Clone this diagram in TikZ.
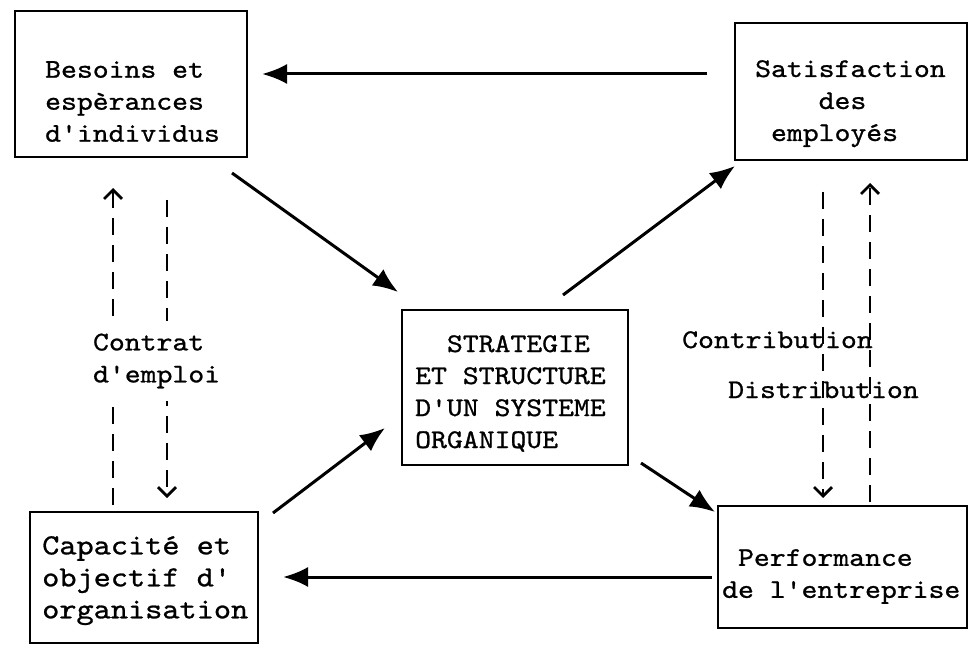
\documentclass[tikz,border=0pt]{standalone}
\usepackage{fontspec}
\newfontfamily\tw{lmmono10-regular}[Extension=.otf,FakeStretch=1.12,FakeBold=0.9,Ligatures=TeXOff]
\usetikzlibrary{arrows.meta}
\begin{document}
\begin{tikzpicture}[x=1pt,y=-1pt,
  box/.style={draw, line width=2.5pt, inner sep=0pt, outer sep=0pt},
  txt/.style={font=\tw\fontsize{27}{32}\selectfont, align=left, inner sep=0pt},
  bigtxt/.style={font=\tw\fontsize{29.2}{32}\selectfont, align=left, inner sep=0pt},
  sarrow/.style={line width=3pt, -{Latex[length=25pt,width=20pt]}},
  darrow/.style={line width=2.3pt, dash pattern=on 17pt off 10pt, -{Straight Barb[length=9pt,width=18pt,line width=2.8pt]}}]
\useasboundingbox (0,0) rectangle (969,655);

% boxes
\node[box, minimum width=232pt, minimum height=146pt] (bes) at (131,84) {};
\node[box, minimum width=232pt, minimum height=137pt] (sat) at (851,91.5) {};
\node[box, minimum width=226pt, minimum height=155pt] (str) at (515,387.5) {};
\node[box, minimum width=228pt, minimum height=131pt] (cap) at (144,577.5) {};
\node[box, minimum width=249pt, minimum height=122pt] (perf) at (842.5,567) {};

% box texts
\node[txt, anchor=north west] (tbes) at (45,61) {Besoins et\\esp\`erances\\d'individus};
\node[txt, anchor=north west] (tsat) at (755,60) {Satisfaction\\\hphantom{XXXX}des\\\hphantom{X}employ\'es};
\node[txt, anchor=north west] (tstr) at (415,335) {\hphantom{XX}STRATEGIE\\ET STRUCTURE\\D'UN SYSTEME\\ORGANIQUE};
\node[bigtxt, anchor=north west] (tcap) at (42,536) {Capacit\'e et\\objectif d'\\organisation};
\node[txt, anchor=north west] (tperf) at (722,549) {\hphantom{X}Performance\\de l'entreprise};

% guide coordinates
\coordinate (H1) at (0,74);
\coordinate (H2) at (0,577);
\coordinate (L1) at (113,0);
\coordinate (L2) at (167,0);
\coordinate (R1) at (823,0);
\coordinate (R2) at (870,0);

% solid connectors
\draw[sarrow, shorten <=28pt, shorten >=15pt] (sat.west |- H1) -- (bes.east |- H1);
\draw[sarrow] ([shift={(-15,16)}]bes.south east) -- ([shift={(-4,-18)}]str.north west);
\draw[sarrow] ([shift={(48,-15)}]str.north) -- ([shift={(0,6)}]sat.south west);
\draw[sarrow] ([shift={(15,1)}]cap.north east) -- ([shift={(-17,-37)}]str.south west);
\draw[sarrow] ([shift={(13,-2)}]str.south east) -- ([shift={(-3,6)}]perf.north west);
\draw[sarrow, shorten <=6pt, shorten >=25pt] (perf.west |- H2) -- (cap.east |- H2);

% dashed connectors
\draw[darrow, shorten <=7pt, shorten >=31pt] (cap.north -| L1) -- (bes.south -| L1);
\draw[darrow, shorten <=43pt, shorten >=14pt] (bes.south -| L2) -- (cap.north -| L2);
\draw[darrow, shorten <=32pt, shorten >=8pt] (sat.south -| R1) -- (perf.north -| R1);
\draw[darrow, shorten <=4pt, shorten >=23pt] (perf.north -| R2) -- (sat.south -| R2);

% labels
\node[txt, fill=white, inner xsep=0pt, inner ysep=13pt] (contrat) at (156.6,361) {Contrat\\d'emploi};
\node[txt, anchor=base west] (contrib) at (682,348) {Contribution};
\node[txt, anchor=base west] (distrib) at (728,398) {Distribution};
\end{tikzpicture}
\end{document}
